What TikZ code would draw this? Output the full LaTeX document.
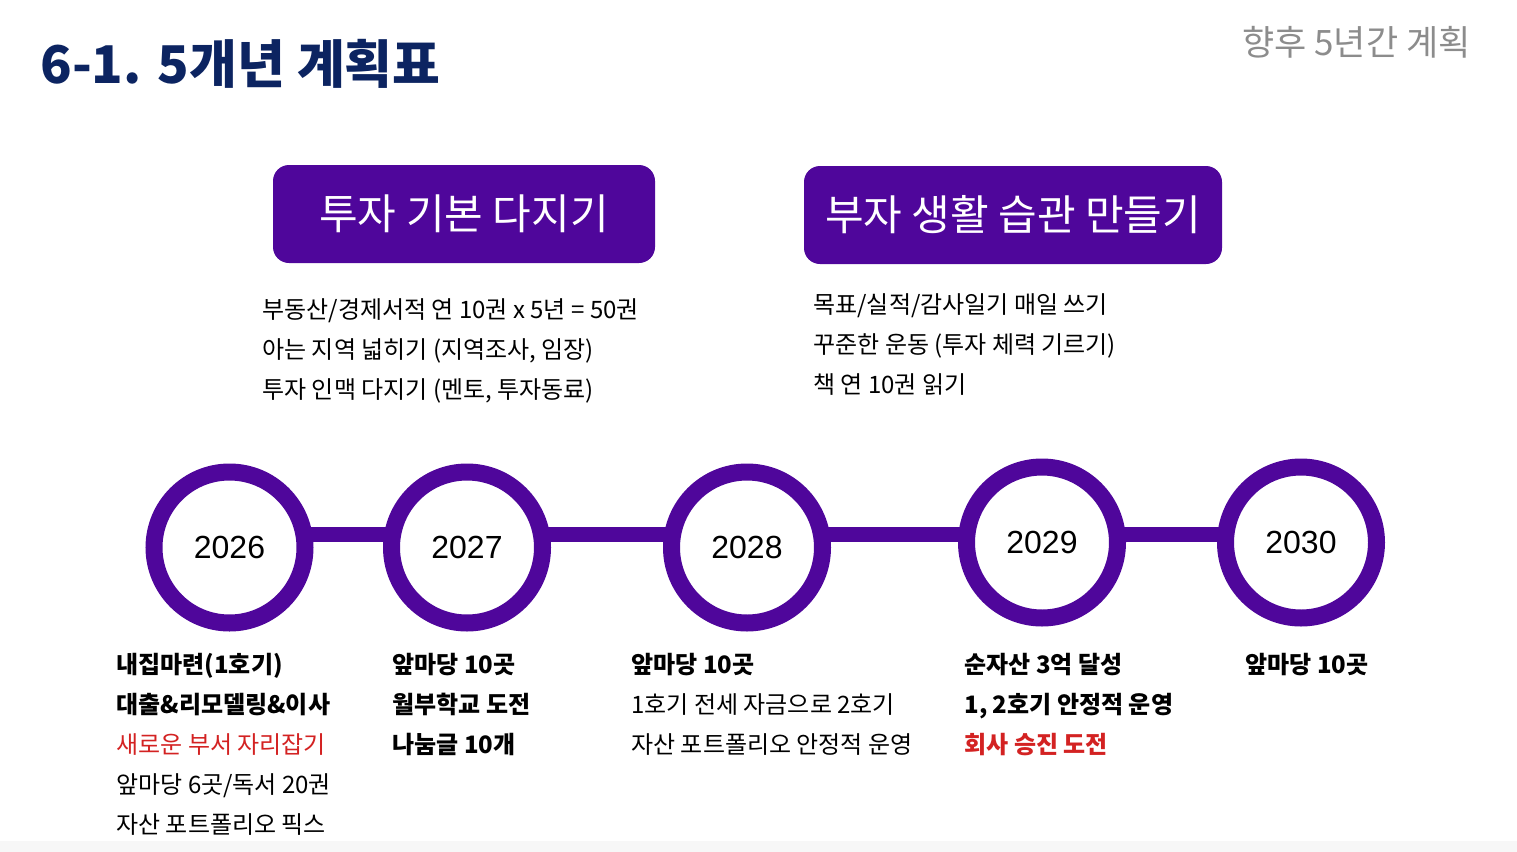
\documentclass[tikz,border=0pt]{standalone}
\usepackage{fontspec}
\setmainfont{Noto Sans CJK KR}
\newfontfamily\yearfont{Liberation Sans}
\usepackage{tikz}
\usetikzlibrary{positioning, backgrounds}
\definecolor{planpurple}{HTML}{4F069B}
\definecolor{titlenavy}{HTML}{0C2461}
\definecolor{alertred}{HTML}{D32222}
\tikzstyle{goalbox} = [rectangle, fill=planpurple, rounded corners=8pt,
                 text=white, minimum height=49pt,
                 font=\fontsize{21}{25}\selectfont]
\tikzstyle{rail} = [draw=planpurple, line width=7.5pt]
\tikzset{
	yearring/.style={circle, draw=planpurple, line width=8.5pt, fill=white,
		minimum size=75.5pt, inner sep=0pt,
		font=\yearfont\fontsize{16}{18}\selectfont},
	plan/.style={anchor=north west, inner sep=0pt, align=left,
		font=\fontsize{12}{20}\selectfont},
}

\begin{document}
\begin{tikzpicture}[x=0.5pt, y=-0.5pt]

\useasboundingbox (0,0) rectangle (1517,852);
\fill [black!3] (0,841) rectangle (1517,852);

	%heading
\node [anchor=base west, inner sep=0pt, text=titlenavy,
	font=\bfseries\fontsize{26}{30}\selectfont] at (40,83) (title) {6-1. 5개년 계획표};
\node [anchor=base east, inner sep=0pt, text=black!45,
	font=\fontsize{17.5}{20}\selectfont] at (1471,55) (subtitle) {향후 5년간 계획};

\node [goalbox, minimum width=191pt] at (464,214) (basics) {투자 기본 다지기};
\node [goalbox, minimum width=209pt] at (1013,215) (habits) {부자 생활 습관 만들기};

\node [plan] at (262,290) (basicslist) {\strut 부동산/경제서적 연 10권 x 5년 = 50권\\
	아는 지역 넓히기 (지역조사, 임장)\\ 투자 인맥 다지기 (멘토, 투자동료)};
\node [plan] at (813,285) (habitslist) {\strut 목표/실적/감사일기 매일 쓰기\\
	꾸준한 운동 (투자 체력 기르기)\\ 책 연 10권 읽기};

	%years
\node [yearring] at (229.5,547.5) (y2026) {2026};
\node [yearring] at (467,547.5) (y2027) {2027};
\node [yearring] at (747,547.5) (y2028) {2028};
\node [yearring] at (1042,542.5) (y2029) {2029};
\node [yearring] at (1301,542.5) (y2030) {2030};

\coordinate (railline) at (0,534.5);
\begin{scope}[on background layer]
\foreach \a/\b in {2026/2027, 2027/2028, 2028/2029, 2029/2030}
	\path [rail] (y\a |- railline) -- (y\b |- railline);
\end{scope}

\node [plan] at (116,645) (plan2026) {\strut\textbf{내집마련(1호기)}\\
	\textbf{대출\&리모델링\&이사}\\ \textcolor{alertred}{새로운 부서 자리잡기}\\
	앞마당 6곳/독서 20권\\ 자산 포트폴리오 픽스};
\node [plan] at (392,645) (plan2027) {\strut\textbf{앞마당 10곳}\\
	\textbf{월부학교 도전}\\ \textbf{나눔글 10개}};
\node [plan] at (631,645) (plan2028) {\strut\textbf{앞마당 10곳}\\
	1호기 전세 자금으로 2호기\\ 자산 포트폴리오 안정적 운영};
\node [plan] at (964,645) (plan2029) {\strut\textbf{순자산 3억 달성}\\
	\textbf{1, 2호기 안정적 운영}\\ \textcolor{alertred}{\textbf{회사 승진 도전}}};
\node [plan] at (1245,645) (plan2030) {\strut\textbf{앞마당 10곳}};

\end{tikzpicture}
\end{document}
